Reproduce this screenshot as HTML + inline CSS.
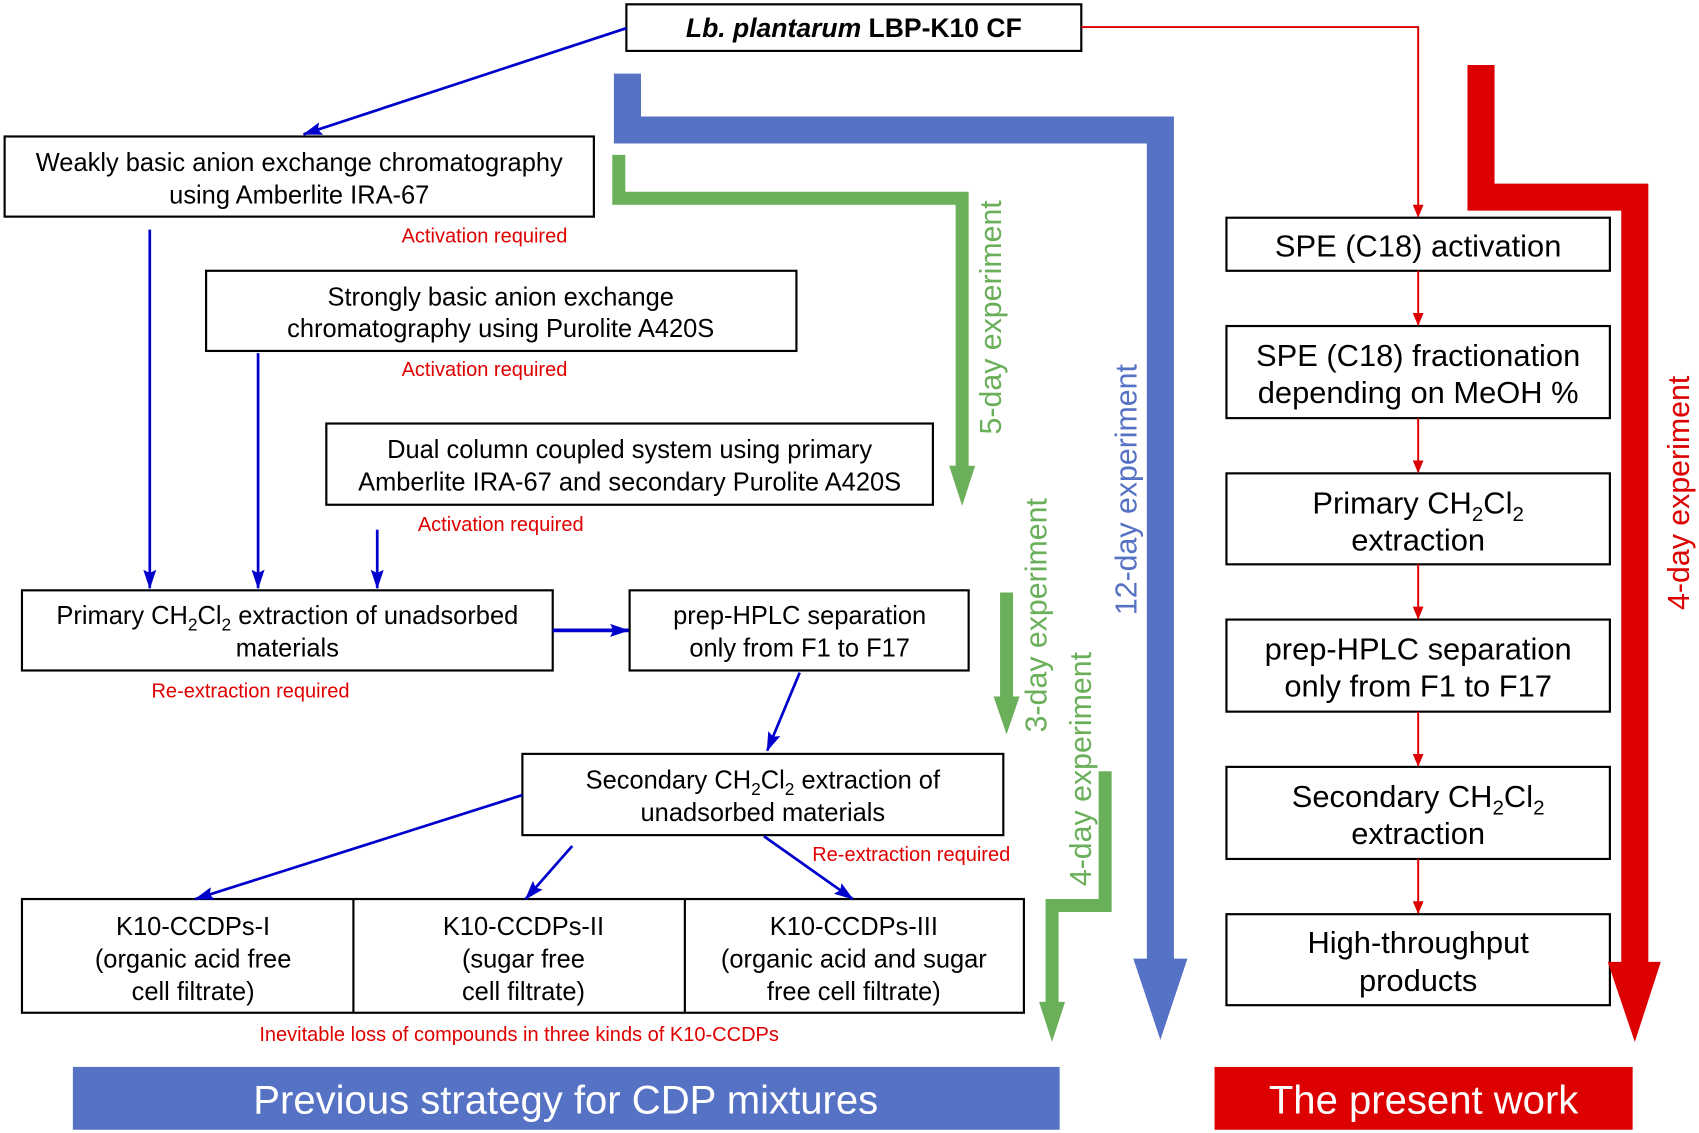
<!DOCTYPE html>
<html><head><meta charset="utf-8"><style>
html,body{margin:0;padding:0;background:#fff;}
svg{display:block;}
text{font-family:"Liberation Sans",Arial,sans-serif;}
</style></head><body>
<svg width="1699" height="1133" viewBox="0 0 1568 1046" xmlns="http://www.w3.org/2000/svg">
<defs>
<marker id="abl" markerWidth="18" markerHeight="12" refX="17" refY="6" orient="auto" markerUnits="userSpaceOnUse"><path d="M0,0 L18,6 L0,12 L3,6 Z" fill="#0000cc"/></marker>
<marker id="ar" markerWidth="12" markerHeight="10" refX="11" refY="5" orient="auto" markerUnits="userSpaceOnUse"><path d="M0,0 L12,5 L0,10 Z" fill="#dd0000"/></marker>
</defs>
<g fill="none" stroke="#000" stroke-width="2">
<rect x="578" y="4" width="420" height="43"/>
<rect x="4" y="126" width="544" height="74"/>
<rect x="190" y="250" width="545" height="74"/>
<rect x="301" y="391" width="560" height="75"/>
<rect x="20" y="545" width="490" height="74"/>
<rect x="581" y="545" width="313" height="74"/>
<rect x="482" y="696" width="444" height="75"/>
<rect x="20" y="830" width="925" height="105"/>
<line x1="326" y1="830" x2="326" y2="935"/>
<line x1="632" y1="830" x2="632" y2="935"/>
<rect x="1132" y="201" width="354" height="49"/>
<rect x="1132" y="301" width="354" height="85"/>
<rect x="1132" y="437" width="354" height="84"/>
<rect x="1132" y="572" width="354" height="85"/>
<rect x="1132" y="708" width="354" height="85"/>
<rect x="1132" y="844" width="354" height="84"/>
</g>
<polyline points="579,68 579,120 1071,120 1071,888" fill="none" stroke="#5572C4" stroke-width="25"/>
<polygon points="1046,885 1096,885 1071,960" fill="#5572C4"/>
<polyline points="1367,60 1367,182 1509,182 1509,890" fill="none" stroke="#DD0000" stroke-width="25"/>
<polygon points="1484,888 1533,888 1509,962" fill="#DD0000"/>
<polyline points="571,143 571,183 888,183 888,432" fill="none" stroke="#6AAF5A" stroke-width="12"/>
<polygon points="876,430 900,430 888,467" fill="#6AAF5A"/>
<line x1="929" y1="547" x2="929" y2="645" stroke="#6AAF5A" stroke-width="12"/>
<polygon points="917,643 941,643 929,678" fill="#6AAF5A"/>
<polyline points="1020,712 1020,836 971,836 971,927" fill="none" stroke="#6AAF5A" stroke-width="12"/>
<polygon points="959,925 983,925 971,962" fill="#6AAF5A"/>
<g stroke="#0000cc" stroke-width="2.5" fill="none">
<line x1="578" y1="26" x2="280" y2="124" marker-end="url(#abl)"/>
<line x1="138" y1="212" x2="138" y2="543" marker-end="url(#abl)"/>
<line x1="238" y1="326" x2="238" y2="543" marker-end="url(#abl)"/>
<line x1="348" y1="489" x2="348" y2="543" marker-end="url(#abl)"/>
<line x1="510" y1="582" x2="580" y2="582" stroke-width="3.5" marker-end="url(#abl)"/>
<line x1="738" y1="621" x2="708" y2="693" marker-end="url(#abl)"/>
<line x1="482" y1="734" x2="180" y2="830" marker-end="url(#abl)"/>
<line x1="528" y1="781" x2="485" y2="830" marker-end="url(#abl)"/>
<line x1="705" y1="772" x2="787" y2="830" marker-end="url(#abl)"/>
</g>
<g stroke="#dd0000" stroke-width="1.8" fill="none">
<polyline points="998,25 1309,25 1309,200" marker-end="url(#ar)"/>
<line x1="1309" y1="250" x2="1309" y2="300" marker-end="url(#ar)"/>
<line x1="1309" y1="386" x2="1309" y2="436" marker-end="url(#ar)"/>
<line x1="1309" y1="521" x2="1309" y2="571" marker-end="url(#ar)"/>
<line x1="1309" y1="657" x2="1309" y2="707" marker-end="url(#ar)"/>
<line x1="1309" y1="793" x2="1309" y2="843" marker-end="url(#ar)"/>
</g>
<g font-size="23.5" text-anchor="middle" fill="#000">
<text x="788" y="34" font-weight="bold" font-size="24.5"><tspan font-style="italic">Lb. plantarum</tspan> LBP-K10 CF</text>
<text x="276" y="158">Weakly basic anion exchange chromatography</text>
<text x="276" y="188">using Amberlite IRA-67</text>
<text x="462" y="282">Strongly basic anion exchange</text>
<text x="462" y="311">chromatography using Purolite A420S</text>
<text x="581" y="423">Dual column coupled system using primary</text>
<text x="581" y="453">Amberlite IRA-67 and secondary Purolite A420S</text>
<text x="265" y="576">Primary CH<tspan font-size="16" dy="6">2</tspan><tspan dy="-6">Cl</tspan><tspan font-size="16" dy="6">2</tspan><tspan dy="-6"> extraction of unadsorbed</tspan></text>
<text x="265" y="606">materials</text>
<text x="738" y="576">prep-HPLC separation</text>
<text x="738" y="606">only from F1 to F17</text>
<text x="704" y="728">Secondary CH<tspan font-size="16" dy="6">2</tspan><tspan dy="-6">Cl</tspan><tspan font-size="16" dy="6">2</tspan><tspan dy="-6"> extraction of</tspan></text>
<text x="704" y="758">unadsorbed materials</text>
<text x="178" y="863">K10-CCDPs-I</text>
<text x="178" y="893">(organic acid free</text>
<text x="178" y="923">cell filtrate)</text>
<text x="483" y="863">K10-CCDPs-II</text>
<text x="483" y="893">(sugar free</text>
<text x="483" y="923">cell filtrate)</text>
<text x="788" y="863">K10-CCDPs-III</text>
<text x="788" y="893">(organic acid and sugar</text>
<text x="788" y="923">free cell filtrate)</text>
</g>
<g font-size="28.5" text-anchor="middle" fill="#000">
<text x="1309" y="237">SPE (C18) activation</text>
<text x="1309" y="338">SPE (C18) fractionation</text>
<text x="1309" y="372">depending on MeOH %</text>
<text x="1309" y="474">Primary CH<tspan font-size="19" dy="7">2</tspan><tspan dy="-7">Cl</tspan><tspan font-size="19" dy="7">2</tspan></text>
<text x="1309" y="508">extraction</text>
<text x="1309" y="609">prep-HPLC separation</text>
<text x="1309" y="643">only from F1 to F17</text>
<text x="1309" y="745">Secondary CH<tspan font-size="19" dy="7">2</tspan><tspan dy="-7">Cl</tspan><tspan font-size="19" dy="7">2</tspan></text>
<text x="1309" y="779">extraction</text>
<text x="1309" y="880">High-throughput</text>
<text x="1309" y="915">products</text>
</g>
<g font-size="18.5" text-anchor="middle" fill="#e00000">
<text x="447" y="224">Activation required</text>
<text x="447" y="347">Activation required</text>
<text x="462" y="490">Activation required</text>
<text x="231" y="644">Re-extraction required</text>
<text x="841" y="795">Re-extraction required</text>
<text x="479" y="961" font-size="18.5">Inevitable loss of compounds in three kinds of K10-CCDPs</text>
</g>
<g font-size="28" text-anchor="middle">
<text transform="translate(924,293) rotate(-90)" fill="#6AAF5A">5-day experiment</text>
<text transform="translate(966,568) rotate(-90)" fill="#6AAF5A">3-day experiment</text>
<text transform="translate(1007,710) rotate(-90)" fill="#6AAF5A">4-day experiment</text>
<text transform="translate(1049,452) rotate(-90)" fill="#5572C4">12-day experiment</text>
<text transform="translate(1559,455) rotate(-90)" fill="#DD0000">4-day experiment</text>
</g>
<rect x="67" y="985" width="911" height="58" fill="#5572C4"/>
<text x="522" y="1028" font-size="37" text-anchor="middle" fill="#fff">Previous strategy for CDP mixtures</text>
<rect x="1121" y="985" width="386" height="58" fill="#DD0000"/>
<text x="1314" y="1028" font-size="37" text-anchor="middle" fill="#fff">The present work</text>
</svg>
</body></html>
